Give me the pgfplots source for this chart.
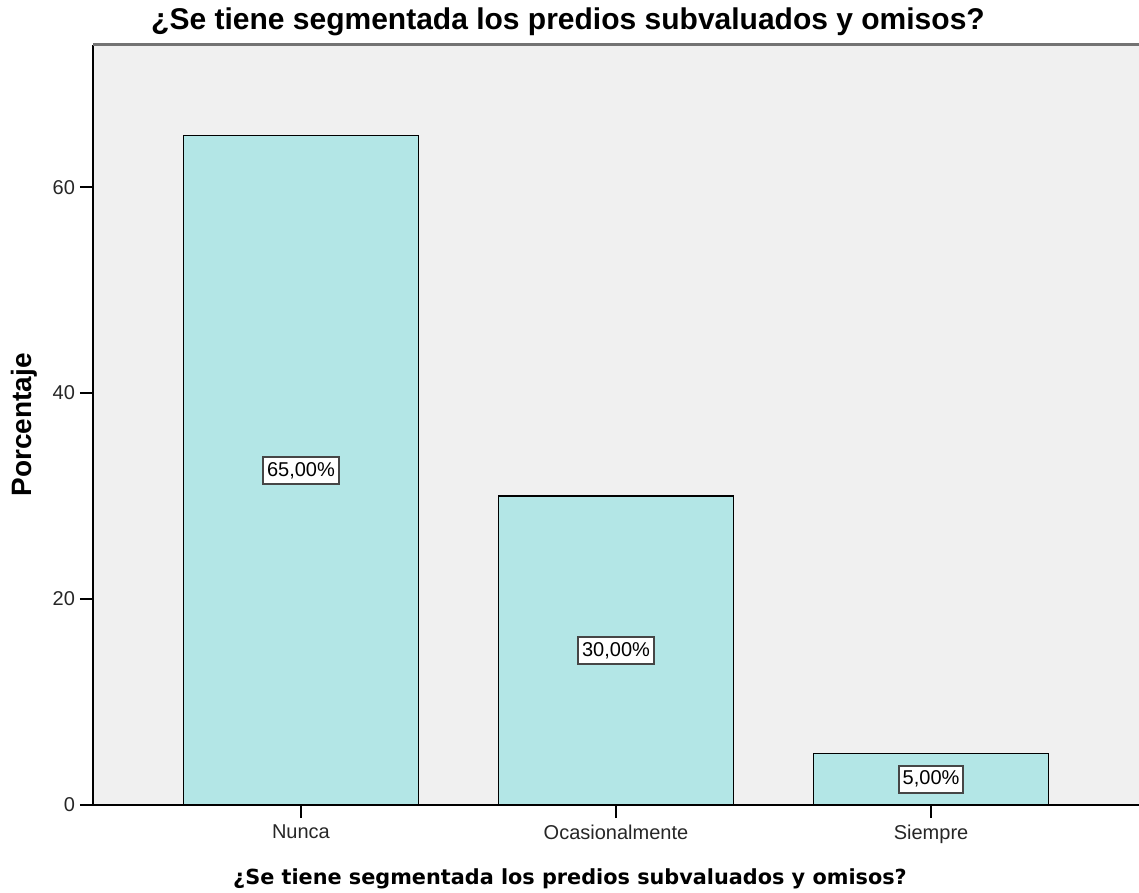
\documentclass[border=0pt]{standalone}
\usepackage{pgfplots}
\pgfplotsset{compat=1.18}
\usepackage{fontspec}
\setmainfont{Liberation Sans}
\newfontfamily\dejavu{DejaVu Sans}
\definecolor{barfill}{RGB}{179,230,230}
\definecolor{bgfill}{RGB}{240,240,240}
\definecolor{boxline}{RGB}{70,70,70}
\begin{document}
\begin{tikzpicture}
\begin{axis}[
  scale only axis,
  width=523pt, height=380pt,
  xmin=-0.66, xmax=2.66,
  ymin=0, ymax=73.8,
  axis x line*=bottom, axis y line*=left,
  axis line style={black, line width=0.9pt, -},
  axis background/.style={fill=bgfill},
  xtick={0,1,2},
  xticklabels={Nunca,Ocasionalmente,Siempre},
  ytick={0,20,40,60},
  tick align=outside,
  major tick length=6.5pt,
  tick style={black, line width=0.9pt},
  ticklabel style={font=\fontsize{10}{12}\selectfont, text=black!85},
  yticklabel style={xshift=1pt},
  /pgf/number format/assume math mode=true,
  title={¿Se tiene segmentada los predios subvaluados y omisos?},
  title style={font=\bfseries\fontsize{15}{18}\selectfont,
    at={([xshift=-24pt,yshift=2pt]rel axis cs:0.5,1)}, anchor=base, inner sep=0pt},
  xlabel={¿Se tiene segmentada los predios subvaluados y omisos?},
  xlabel style={font=\dejavu\bfseries\fontsize{10.4}{12}\selectfont,
    at={([xshift=-23pt,yshift=-39.5pt]rel axis cs:0.5,0)}, anchor=base, inner sep=0pt},
  ylabel={Porcentaje},
  ylabel style={font=\bfseries\fontsize{14}{16}\selectfont,
    at={([xshift=-34.5pt]rel axis cs:0,0.5)}, anchor=center},
  clip=false,
]
\addplot[ybar, bar width=0.746, fill=barfill, draw=black, line width=0.8pt,
  visualization depends on=y \as \rawy,
  nodes near coords={\pgfmathprintnumber[fixed, fixed zerofill, precision=2, use comma]{\pgfplotspointmeta}\%},
  nodes near coords style={anchor=center, shift={(axis direction cs:0,-\rawy/2)},
    fill=white, draw=boxline, line width=1pt, inner xsep=2pt, inner ysep=2.5pt,
    font=\fontsize{10}{12}\selectfont, text=black}]
coordinates {(0,65) (1,30) (2,5)};
\draw[line width=1.5pt, black!55] (rel axis cs:0,1) -- (rel axis cs:1,1);
\coordinate (ll) at (rel axis cs:0,0);
\coordinate (ur) at (rel axis cs:1,1);
\end{axis}
\pgfresetboundingbox
\path ([shift={(-46.5pt,-43.5pt)}]ll) rectangle ([shift={(0pt,22.5pt)}]ur);
\end{tikzpicture}
\end{document}
